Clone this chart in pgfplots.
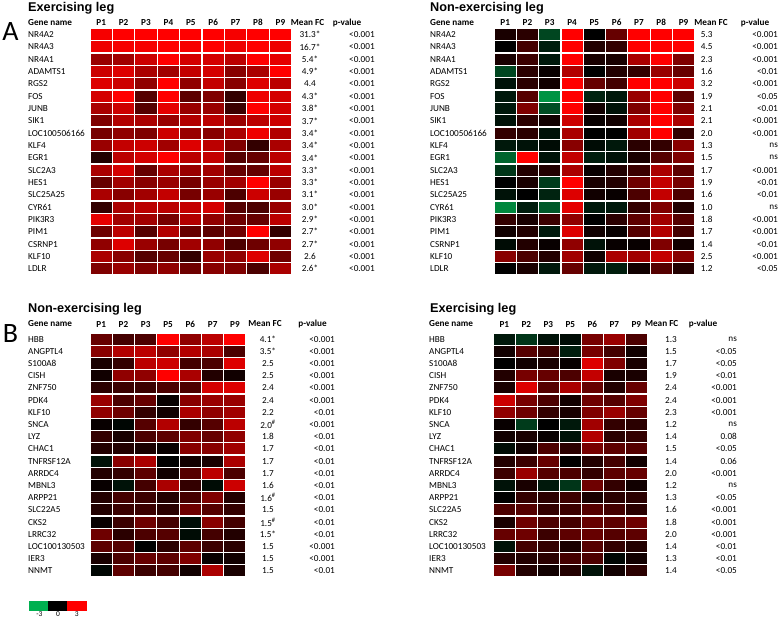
\documentclass[border=0pt]{standalone}
\usepackage{fontspec}
\setmainfont{Carlito}
\newfontfamily\arial{Liberation Sans}
\usepackage{pgfplots}
\usepackage{pgfplotstable}
\pgfplotsset{compat=1.18}

\newcommand\fs{\fontsize{9.2}{11}\selectfont}
\newcommand\hsh{\textsuperscript{\#}}
\def\cw{22.4pt}\def\ch{12.33pt}
\pgfdeclareplotmark{cell}{\pgfpathrectangle{\pgfpoint{-0.5*\cw}{-0.5*\ch}}{\pgfpoint{\cw}{\ch}}\pgfusepathqfillstroke}

\pgfplotsset{
  hm/.style={scale only axis, y dir=reverse, ymin=-0.5, ymax=19.5, xmin=-0.5, clip=false,
    axis line style={draw=none}, major tick length=0pt,
    colormap={gbr}{rgb255(0cm)=(0,176,80) rgb255(1cm)=(0,0,0) rgb255(2cm)=(255,0,0)},
    point meta min=-3, point meta max=3,
    xticklabel pos=upper, ytick={0,...,19},
    yticklabel style={anchor=west, inner sep=0pt, font=\fs},
    xticklabel style={font=\bfseries\fs, inner sep=1.5pt}},
  cell/.style={scatter, only marks, mark=cell, point meta=explicit,
    scatter/use mapped color={draw=white, fill=mapped color}, mark options={line width=1.2pt}},
  txt/.style={only marks, mark=none, point meta=explicit symbolic, nodes near coords,
    every node near coord/.append style={font=\fs, anchor=#1, inner sep=0pt}},
}

% exercising leg, panel A
\pgfplotstableread{
gene c0 c1 c2 c3 c4 c5 c6 c7 c8 fc p
NR4A2 2.9 3 3 3 3 3 2.9 3 3 31.3* <0.001
NR4A3 2.8 2.9 2.9 3 2.9 3 2.8 3 2.8 16.7* <0.001
NR4A1 1.8 1.9 2.4 3 2.5 2.5 2.2 3 2.7 5.4* <0.001
ADAMTS1 2.4 2.6 2.0 1.9 2.3 2.5 1.6 2.0 3 4.9* <0.001
RGS2 2.6 2.4 1.7 3 1.7 2.3 1.6 2.6 2.2 4.4 <0.001
FOS 2.5 3 1.0 3 1.1 1.5 0.6 2.8 2.5 4.3* <0.001
JUNB 2.0 2.4 1.0 2.7 1.8 1.8 0.7 3 2.5 3.8* <0.001
SIK1 1.5 2.1 2.0 1.8 2.1 2.2 1.8 2.2 2.4 3.7* <0.001
LOC100506166 1.4 1.7 1.5 2.4 1.8 1.6 2.0 2.8 2.1 3.4* <0.001
KLF4 1.8 2.3 2.4 1.9 2.6 2.2 1.5 0.6 2.0 3.4* <0.001
EGR1 0.4 2.2 2.5 3 2.2 2.3 1.0 1.2 2.2 3.4* <0.001
SLC2A3 2.0 2.5 1.2 2.0 1.8 1.9 1.2 1.2 2.2 3.3* <0.001
HES1 1.2 1.9 1.6 1.8 1.4 1.8 1.9 3 1.8 3.3* <0.001
SLC25A25 2.0 1.6 1.9 2.3 1.4 1.8 0.9 2.4 1.8 3.1* <0.001
CYR61 0.6 2.0 2.2 2.2 2.3 2.5 1.0 0.9 1.8 3.0* <0.001
PIK3R3 2.7 1.9 1.9 1.4 2.1 1.7 1.3 1.2 2.2 2.9* <0.001
PIM1 1.3 2.2 1.0 2.1 1.2 1.1 1.3 3 0.6 2.7* <0.001
CSRNP1 1.7 2.6 1.8 1.4 1.9 1.7 0.9 1.3 1.7 2.7* <0.001
KLF10 2.0 1.6 1.0 1.2 0.6 1.8 1.7 2.6 1.3 2.6 <0.001
LDLR 1.5 1.8 1.5 1.7 1.3 1.6 1.5 0.9 2.0 2.6* <0.001
}\tAE

% non-exercising leg, panel A
\pgfplotstableread{
gene c0 c1 c2 c3 c4 c5 c6 c7 c8 fc p
NR4A2 0.3 0.5 -1.2 3 0.0 1.2 3 3 3 5.3 <0.001
NR4A3 0.0 0.8 -0.5 3 0.4 0.6 3 3 3 4.5 <0.001
NR4A1 0.3 0.7 -0.4 3 0.3 0.3 2.0 3 1.5 2.3 <0.001
ADAMTS1 -1.2 0.5 0.1 2.1 0.0 0.4 0.6 1.8 1.2 1.6 <0.01
RGS2 -0.3 0.5 0.2 3 1.2 0.8 3 3 2.4 3.2 <0.001
FOS -0.4 1.0 -2.5 3 -0.6 -0.4 1.8 3 1.1 1.9 <0.05
JUNB -0.4 1.5 -1.3 3 0.2 -0.3 1.5 3 1.5 2.1 <0.01
SIK1 -0.3 0.5 0.2 2.4 0.1 0.2 2.0 3 2.0 2.1 <0.001
LOC100506166 0.6 0.5 -0.3 2.0 0.0 0.0 1.9 3 0.6 2.0 <0.001
KLF4 -0.4 -0.3 -0.2 1.6 -0.2 -0.4 0.5 0.6 1.6 1.3 ns
EGR1 -1.7 3 -0.3 2.3 -0.5 -0.3 0.3 1.0 1.5 1.5 ns
SLC2A3 -0.9 0.4 0.4 2.0 0.1 0.4 0.7 2.0 1.1 1.7 <0.001
HES1 0.0 0.3 -1.0 3 0.3 0.4 1.3 2.3 1.4 1.9 <0.01
SLC25A25 -0.3 0.0 -0.6 2.6 0.2 0.1 0.9 2.3 0.9 1.6 <0.01
CYR61 -2.3 -0.5 -1.5 2.7 -0.4 -0.4 0.6 1.5 0.4 1.0 ns
PIK3R3 0.6 0.3 0.7 1.7 0.0 0.5 1.1 1.9 1.0 1.8 <0.001
PIM1 0.2 0.4 -0.4 2.6 0.2 0.1 1.0 2.1 0.8 1.7 <0.001
CSRNP1 -0.2 0.4 0.1 1.7 -0.3 0.1 0.1 1.5 0.2 1.4 <0.01
KLF10 1.6 0.9 0.4 1.9 0.2 2.0 1.9 2.3 1.6 2.5 <0.001
LDLR 0.0 0.3 -0.4 1.2 -0.4 -0.5 0.2 1.0 0.4 1.2 <0.05
}\tAN

% non-exercising leg, panel B
\pgfplotstableread{
gene c0 c1 c2 c3 c4 c5 c6 fc p
HBB 1.2 0.8 0.9 3 1.7 2.2 3 4.1* <0.001
ANGPTL4 1.6 2.1 2.2 1.7 2.1 2.0 0.9 3.5* <0.001
S100A8 0.3 0.6 2.2 2.4 0.8 0.9 2.6 2.5 <0.001
CISH 0.2 1.7 1.7 3 2.0 0.4 0.2 2.5 <0.001
ZNF750 0.5 0.7 0.7 0.9 0.9 2.5 2.6 2.4 <0.001
PDK4 1.8 0.9 1.2 0.1 1.6 1.8 1.8 2.4 <0.001
KLF10 1.7 1.3 0.6 0.2 2.0 1.7 1.9 2.2 <0.01
SNCA 0.1 -0.1 1.0 2.1 0.6 1.0 2.2 {2.0\hsh} <0.001
LYZ 0.6 0.3 0.9 1.1 1.5 1.2 1.7 1.8 <0.01
CHAC1 0.4 0.4 0.3 0.1 1.6 1.6 1.9 1.7 <0.01
TNFRSF12A -0.3 1.6 2.0 0.0 0.2 0.3 2.0 1.7 <0.01
ARRDC4 0.4 0.6 1.1 0.2 1.0 2.2 0.9 1.7 <0.01
MBNL3 0.1 -0.3 0.8 2.0 0.6 -0.2 2.4 1.6 <0.01
ARPP21 0.4 0.8 0.7 0.4 0.8 1.5 0.4 {1.6\hsh} <0.01
SLC22A5 0.4 0.7 0.7 0.5 1.3 1.0 0.6 1.5 <0.01
CKS2 0.1 0.7 1.3 0.8 -0.2 1.6 0.8 {1.5\hsh} <0.01
LRRC32 1.3 0.5 0.9 1.0 -0.2 0.8 0.4 1.5* <0.01
LOC100130503 1.1 1.0 0.0 0.5 1.1 0.7 0.5 1.5 <0.001
IER3 0.3 0.9 1.2 1.1 1.5 0.1 0.2 1.5 <0.001
NNMT -0.1 1.1 0.7 0.8 0.2 2.0 0.3 1.5 <0.01
}\tBN

% exercising leg, panel B
\pgfplotstableread{
gene c0 c1 c2 c3 c4 c5 c6 fc p
HBB -0.4 -0.9 -0.3 -0.2 1.4 1.8 0.9 1.3 ns
ANGPTL4 0.2 1.0 0.7 -0.5 1.4 0.8 0.2 1.5 <0.05
S100A8 0.0 0.2 0.3 0.1 2.6 1.5 0.3 1.7 <0.05
CISH 0.4 1.4 1.2 0.9 2.3 0.3 0.3 1.9 <0.01
ZNF750 0.3 2.6 1.0 2.0 1.2 0.4 1.2 2.4 <0.001
PDK4 2.4 1.4 0.9 0.2 1.3 1.0 1.5 2.4 <0.001
KLF10 1.7 1.3 0.6 0.3 1.5 1.8 1.2 2.3 <0.001
SNCA 0.1 -1.0 0.0 -0.4 1.9 0.6 0.5 1.2 ns
LYZ 0.2 0.3 0.1 -0.3 2.1 0.5 0.6 1.4 0.08
CHAC1 -0.2 0.2 0.9 0.5 1.4 1.1 1.0 1.5 <0.05
TNFRSF12A 0.4 0.7 1.2 0.0 0.4 0.8 0.2 1.4 0.06
ARRDC4 0.7 1.8 1.0 0.9 0.6 1.1 1.2 2.0 <0.001
MBNL3 -0.3 0.3 -0.4 -0.9 1.3 0.6 0.2 1.2 ns
ARPP21 0.0 0.6 0.5 0.7 0.3 0.5 0.5 1.3 <0.05
SLC22A5 0.9 1.0 0.6 0.7 1.0 0.8 0.5 1.6 <0.001
CKS2 0.3 1.3 0.9 0.8 1.2 1.1 1.3 1.8 <0.001
LRRC32 1.2 1.3 0.7 1.1 1.2 1.0 1.1 2.0 <0.001
LOC100130503 -0.3 0.8 0.6 0.3 1.0 0.6 0.4 1.4 <0.01
IER3 0.4 0.4 0.5 0.8 0.9 -0.1 0.2 1.3 <0.01
NNMT 1.4 0.4 0.2 0.4 -0.3 0.2 0.5 1.4 <0.05
}\tBE

\begin{document}
\begin{tikzpicture}
\useasboundingbox (0,0) rectangle (784pt,-622pt);

% ---------- panel A, exercising ----------
\def\cw{22.4pt}\def\ch{12.33pt}
\begin{axis}[hm, at={(90pt,-28.3pt)}, anchor=north west, width=201.6pt, height=246.6pt,
  xmax=8.5, xtick={0,...,8}, xticklabels={P1,P2,P3,P4,P5,P6,P7,P8,P9},
  xticklabel style={yshift=1pt},
  yticklabels from table={\tAE}{gene}, yticklabel style={xshift=-62pt}]
\pgfplotsinvokeforeach{0,...,8}{
  \addplot[cell] table[x expr=#1, y expr=\coordindex, meta=c#1] {\tAE};
}
\addplot[txt=center] table[x expr=9.32, y expr=\coordindex, meta=fc] {\tAE};
\addplot[txt=east] table[x expr=12.22, y expr=\coordindex, meta=p] {\tAE};
\end{axis}

% ---------- panel A, non-exercising ----------
\def\cw{22.3pt}
\begin{axis}[hm, at={(494pt,-28.3pt)}, anchor=north west, width=200.7pt, height=246.6pt,
  xmax=8.5, xtick={0,...,8}, xticklabels={P1,P2,P3,P4,P5,P6,P7,P8,P9},
  xticklabel style={yshift=1pt},
  yticklabels from table={\tAN}{gene}, yticklabel style={xshift=-64pt}]
\pgfplotsinvokeforeach{0,...,8}{
  \addplot[cell] table[x expr=#1, y expr=\coordindex, meta=c#1] {\tAN};
}
\addplot[txt=center] table[x expr=9.04, y expr=\coordindex, meta=fc] {\tAN};
\addplot[txt=east] table[x expr=12.24, y expr=\coordindex, meta=p] {\tAN};
\end{axis}

% ---------- panel B, non-exercising ----------
\def\cw{22.3pt}\def\ch{12.2pt}
\begin{axis}[hm, at={(90pt,-333pt)}, anchor=north west, width=156.1pt, height=244pt,
  xmax=6.5, xtick={0,...,6}, xticklabels={P1,P2,P3,P5,P6,P7,P9},
  xticklabel style={yshift=4pt},
  yticklabels from table={\tBN}{gene}, yticklabel style={xshift=-62pt}]
\pgfplotsinvokeforeach{0,...,6}{
  \addplot[cell] table[x expr=#1, y expr=\coordindex, meta=c#1] {\tBN};
}
\addplot[txt=center] table[x expr=7.48, y expr=\coordindex, meta=fc] {\tBN};
\addplot[txt=east] table[x expr=10.49, y expr=\coordindex, meta=p] {\tBN};
\end{axis}

% ---------- panel B, exercising ----------
\def\cw{22pt}
\begin{axis}[hm, at={(493.3pt,-333pt)}, anchor=north west, width=154pt, height=244pt,
  xmax=6.5, xtick={0,...,6}, xticklabels={P1,P2,P3,P5,P6,P7,P9},
  xticklabel style={yshift=4pt},
  yticklabels from table={\tBE}{gene}, yticklabel style={xshift=-64.3pt}]
\pgfplotsinvokeforeach{0,...,6}{
  \addplot[cell] table[x expr=#1, y expr=\coordindex, meta=c#1] {\tBE};
}
\addplot[txt=center] table[x expr=7.58, y expr=\coordindex, meta=fc] {\tBE};
\addplot[txt=east] table[x expr=10.58, y expr=\coordindex, meta=p] {\tBE};
\end{axis}

% ---------- colour key ----------
\def\cw{18.67pt}\def\ch{9pt}
\begin{axis}[scale only axis, at={(30pt,-601pt)}, anchor=north west, width=56pt, height=9pt,
  xmin=-0.5, xmax=2.5, ymin=-0.5, ymax=0.5, axis line style={draw=none}, major tick length=0pt,
  colormap={gbr}{rgb255(0cm)=(0,176,80) rgb255(1cm)=(0,0,0) rgb255(2cm)=(255,0,0)},
  point meta min=-3, point meta max=3, ytick=\empty, xtick={0,1,2}, xticklabels={-3,0,3},
  xticklabel style={font=\fontsize{7.5}{8}\selectfont, inner sep=1.5pt}]
\addplot[scatter, only marks, mark=cell, point meta=explicit,
  scatter/use mapped color={draw=mapped color, fill=mapped color}, mark options={line width=0pt}]
  coordinates {(0,0) [-3] (1,0) [0] (2,0) [3]};
\end{axis}

% ---------- titles and headers ----------
\begin{scope}[every node/.style={inner sep=0pt}]
\node[anchor=west, font=\arial\bfseries\fontsize{12.7}{14}\selectfont] at (28pt,-8.5pt) {Exercising leg};
\node[anchor=west, font=\arial\bfseries\fontsize{12.7}{14}\selectfont] at (430pt,-8.5pt) {Non-exercising leg};
\node[anchor=west, font=\arial\bfseries\fontsize{12.7}{14}\selectfont] at (28pt,-309pt) {Non-exercising leg};
\node[anchor=west, font=\arial\bfseries\fontsize{12.7}{14}\selectfont] at (430pt,-309pt) {Exercising leg};
\node[font=\fontsize{28}{30}\selectfont] at (10.5pt,-31.5pt) {A};
\node[font=\fontsize{28}{30}\selectfont] at (10.5pt,-334pt) {B};
\begin{scope}[every node/.append style={font=\bfseries\fs}]
\node[anchor=west] at (28pt,-22.7pt) {Gene name};
\node at (307.5pt,-22.7pt) {Mean FC};
\node at (347pt,-22.7pt) {p-value};
\node[anchor=west] at (430pt,-22.7pt) {Gene name};
\node at (711pt,-22.7pt) {Mean FC};
\node at (755pt,-22.7pt) {p-value};
\node[anchor=west] at (28pt,-324pt) {Gene name};
\node at (265pt,-324pt) {Mean FC};
\node at (312.5pt,-324pt) {p-value};
\node[anchor=west] at (429pt,-324pt) {Gene name};
\node at (661.7pt,-324pt) {Mean FC};
\node at (703pt,-324pt) {p-value};
\end{scope}
\end{scope}
\end{tikzpicture}
\end{document}
